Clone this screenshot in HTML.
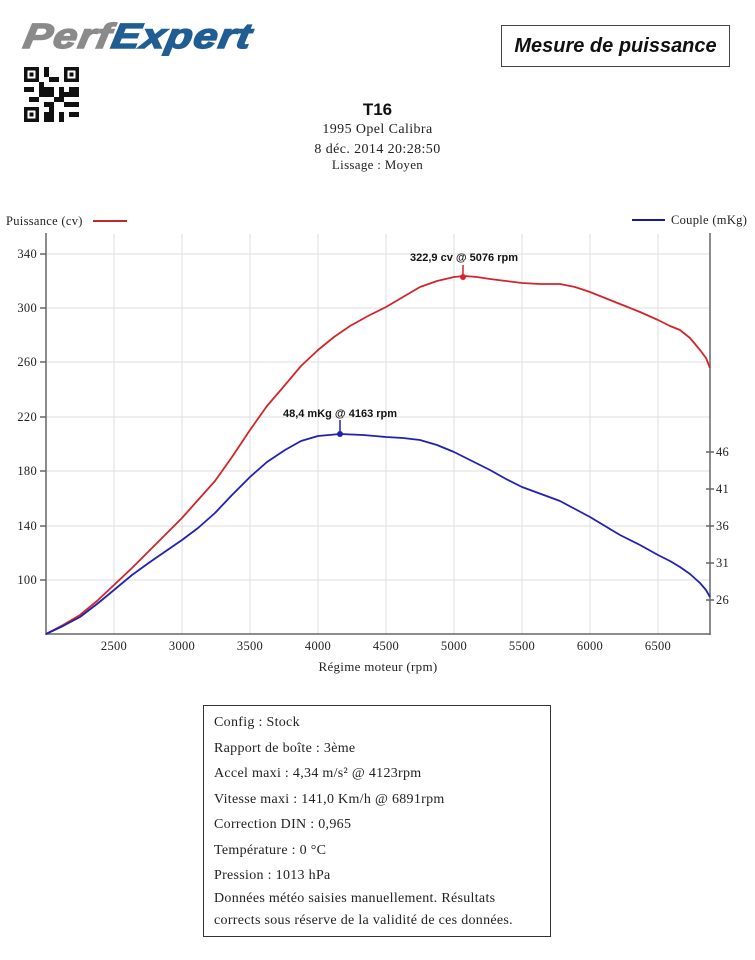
<!DOCTYPE html>
<html><head><meta charset="utf-8"><style>
body{margin:0;width:755px;height:960px;background:#fff;position:relative;font-family:"Liberation Serif",serif;color:#222;overflow:hidden}
.a{position:absolute}
</style></head><body>
<div class="a" style="left:24px;top:17px;font:italic 900 35px 'Liberation Sans',sans-serif;letter-spacing:1px;transform:skewX(-10deg) scaleX(1.22);transform-origin:left;-webkit-text-stroke:1.5px currentColor"><span style="color:#8a8a8a">Perf</span><span style="color:#1f5d93">Expert</span></div>
<svg class="a" style="left:24px;top:67px" width="55" height="55" viewBox="0 0 11 11">
<rect width="11" height="11" fill="#fff"/>
<g fill="#111"><rect x="0" y="0" width="3" height="3"/><rect x="8" y="0" width="3" height="3"/><rect x="0" y="8" width="3" height="3"/>
<rect x="4" y="0" width="1" height="2"/><rect x="5" y="2" width="2" height="1"/><rect x="0" y="4" width="2" height="1"/><rect x="3" y="4" width="3" height="2"/><rect x="7" y="4" width="1" height="3"/><rect x="9" y="4" width="2" height="2"/><rect x="1" y="6" width="2" height="1"/><rect x="4" y="7" width="2" height="1"/><rect x="8" y="7" width="3" height="1"/><rect x="4" y="9" width="2" height="2"/><rect x="7" y="9" width="1" height="2"/><rect x="9" y="9" width="2" height="1"/><rect x="6" y="6" width="1" height="1"/><rect x="3" y="3" width="1" height="1"/><rect x="8" y="5" width="1" height="1"/><rect x="5" y="8" width="1" height="1"/></g>
<g fill="#fff"><rect x=".7" y=".7" width="1.6" height="1.6"/><rect x="8.7" y=".7" width="1.6" height="1.6"/><rect x=".7" y="8.7" width="1.6" height="1.6"/></g>
<g fill="#111"><rect x="1.1" y="1.1" width=".8" height=".8"/><rect x="9.1" y="1.1" width=".8" height=".8"/><rect x="1.1" y="9.1" width=".8" height=".8"/></g></svg>
<div class="a" style="left:501px;top:25px;width:229px;height:42px;border:1px solid #444;box-sizing:border-box;font:italic bold 20px 'Liberation Sans',sans-serif;text-align:center;line-height:40px;color:#111">Mesure de puissance</div>
<div class="a" style="left:0;width:755px;top:100px;text-align:center;font:bold 17px 'Liberation Sans',sans-serif;color:#111">T16</div>
<div class="a" style="left:0;width:755px;top:120px;text-align:center;font-size:14px;letter-spacing:.4px;line-height:20px">1995 Opel Calibra<br>8 déc. 2014 20:28:50</div>
<div class="a" style="left:0;width:755px;top:157px;text-align:center;font-size:13px;letter-spacing:.3px">Lissage : Moyen</div>
<svg class="a" style="left:0;top:200px" width="755" height="490" viewBox="0 200 755 490" font-family="Liberation Serif, serif" font-size="12.5" fill="#222" letter-spacing=".3">
<g stroke="#ddd" stroke-width="1">
<line x1="46" x2="710" y1="254" y2="254"/><line x1="46" x2="710" y1="308" y2="308"/><line x1="46" x2="710" y1="362" y2="362"/><line x1="46" x2="710" y1="417" y2="417"/><line x1="46" x2="710" y1="471" y2="471"/><line x1="46" x2="710" y1="526" y2="526"/><line x1="46" x2="710" y1="580" y2="580"/>
<line y1="234" y2="634" x1="114" x2="114"/><line y1="234" y2="634" x1="182" x2="182"/><line y1="234" y2="634" x1="250" x2="250"/><line y1="234" y2="634" x1="318" x2="318"/><line y1="234" y2="634" x1="386" x2="386"/><line y1="234" y2="634" x1="454" x2="454"/><line y1="234" y2="634" x1="522" x2="522"/><line y1="234" y2="634" x1="590" x2="590"/><line y1="234" y2="634" x1="658" x2="658"/>
</g>
<g stroke="#666" stroke-width="1.5"><line x1="46" x2="46" y1="233" y2="635"/><line x1="710" x2="710" y1="233" y2="635"/><line x1="46" x2="710" y1="634" y2="634"/>
<line x1="40" x2="46" y1="254" y2="254"/><line x1="40" x2="46" y1="308" y2="308"/><line x1="40" x2="46" y1="362" y2="362"/><line x1="40" x2="46" y1="417" y2="417"/><line x1="40" x2="46" y1="471" y2="471"/><line x1="40" x2="46" y1="526" y2="526"/><line x1="40" x2="46" y1="580" y2="580"/>
<line x1="706" x2="714" y1="452" y2="452"/><line x1="706" x2="714" y1="489" y2="489"/><line x1="706" x2="714" y1="526" y2="526"/><line x1="706" x2="714" y1="563" y2="563"/><line x1="706" x2="714" y1="600" y2="600"/></g>
<g text-anchor="end"><text x="37" y="258">340</text><text x="37" y="312">300</text><text x="37" y="366">260</text><text x="37" y="421">220</text><text x="37" y="475">180</text><text x="37" y="530">140</text><text x="37" y="584">100</text></g>
<g><text x="716" y="456">46</text><text x="716" y="493">41</text><text x="716" y="530">36</text><text x="716" y="567">31</text><text x="716" y="604">26</text></g>
<g text-anchor="middle"><text x="114" y="650">2500</text><text x="182" y="650">3000</text><text x="250" y="650">3500</text><text x="318" y="650">4000</text><text x="386" y="650">4500</text><text x="454" y="650">5000</text><text x="522" y="650">5500</text><text x="590" y="650">6000</text><text x="658" y="650">6500</text><text x="378" y="671" font-size="13">Régime moteur (rpm)</text></g>
<text x="6" y="225">Puissance (cv)</text><line x1="93" x2="127" y1="221" y2="221" stroke="#c0282d" stroke-width="2"/>
<text x="671" y="224">Couple (mKg)</text><line x1="632" x2="665" y1="220" y2="220" stroke="#1a1a8f" stroke-width="2"/>
<polyline fill="none" stroke="#d0262b" stroke-width="1.8" stroke-linejoin="round" points="46,634 63,625 80,615 97,601 114,585 132,568 150,550 166,534 182,518 198,500 215,481 232,457 250,430 267,406 285,385 301,366 318,350 334,337 350,326 368,316 386,307 403,297 420,287 437,281 454,277 464,276 477,277 490,279 506,281 522,283 540,284 560,284 575,287 590,292 605,298 620,304 640,312 658,320 670,326 680,330 690,338 700,350 706,358 710,368"/>
<polyline fill="none" stroke="#1f22b0" stroke-width="1.8" stroke-linejoin="round" points="46,634 63,626 80,617 97,604 114,590 132,575 150,562 166,551 182,540 198,528 215,513 232,495 250,477 267,462 285,450 301,441 318,436 340,434 363,435 386,437 403,438 420,440 437,445 454,452 472,461 490,470 506,479 522,487 541,494 560,501 575,509 590,517 605,526 620,535 640,545 658,555 670,561 680,567 690,574 700,583 706,590 710,597"/>
<line x1="463" x2="463" y1="265" y2="277" stroke="#d0262b" stroke-width="1.5"/><circle cx="463" cy="277" r="3" fill="#e01f26"/>
<line x1="340" x2="340" y1="420" y2="434" stroke="#1f22b0" stroke-width="1.5"/><circle cx="340" cy="434" r="3" fill="#1f22b0"/>
<text x="464" y="261" text-anchor="middle" font-family="Liberation Sans, sans-serif" font-weight="bold" font-size="11" letter-spacing="0" fill="#111">322,9 cv @ 5076 rpm</text>
<text x="340" y="417" text-anchor="middle" font-family="Liberation Sans, sans-serif" font-weight="bold" font-size="11" letter-spacing="0" fill="#111">48,4 mKg @ 4163 rpm</text>
</svg>
<div class="a" style="left:203px;top:705px;width:348px;height:232px;border:1px solid #333;box-sizing:border-box;padding:4px 8px 0 10px;font-size:14px;letter-spacing:.3px;line-height:25.5px">
Config : Stock<br>Rapport de boîte : 3ème<br>Accel maxi : 4,34 m/s² @ 4123rpm<br>Vitesse maxi : 141,0 Km/h @ 6891rpm<br>Correction DIN : 0,965<br>Température : 0 °C<br>Pression : 1013 hPa<br><span style="line-height:22px;display:block;margin-top:-1px">Données météo saisies manuellement. Résultats<br>corrects sous réserve de la validité de ces données.</span></div>
</body></html>
